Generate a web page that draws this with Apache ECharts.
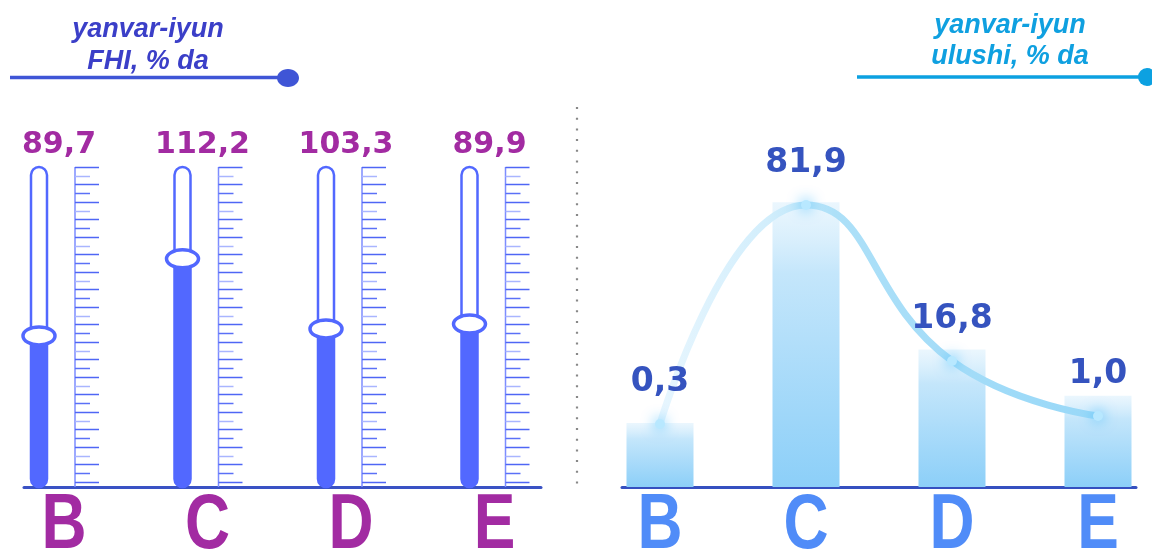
<!DOCTYPE html>
<html><head><meta charset="utf-8">
<script src="https://cdn.jsdelivr.net/npm/echarts@6/dist/echarts.min.js"></script>
<style>html,body{margin:0;padding:0;background:#fff}#c{width:1152px;height:551px}</style>
</head><body><div id="c"></div>
<script>
// ---- data ----
const categories = ['B', 'C', 'D', 'E'];
const fhiLabels = ['89,7', '112,2', '103,3', '89,9'];
const fhiLevels = [47.2, 71.3, 49.4, 50.9];          // knob level in tube (0..100)
const shareLabels = ['0,3', '81,9', '16,8', '1,0'];
const shareBarLevels = [20, 89, 43, 28.5];            // bar heights as drawn (0..100)
const shareLineLevels = [19.7, 88.1, 39.4, 22.2];     // curve points as drawn (0..100)
const rulerStep = 2.734;
const rulerCount = 37;

const TUBE = '#5268ff';
const PURPLE = '#a22ba2';
const LETTER_BLUE = '#508cf8';
const LETTER_FONT = 'bold 78px "Liberation Sans"';

function letter(x, y, txt, color) {
  return {type: 'text', x: x, y: y, scaleX: 0.8,
    style: {text: txt, fill: color, font: LETTER_FONT, align: 'center', verticalAlign: 'middle'}};
}

function renderThermo(params, api) {
  const i = api.value(0), lvl = api.value(1);
  const base = api.coord([i, 0]);
  const top = api.coord([i, 100]);
  const knob = api.coord([i, lvl]);
  const tx = base[0] - 25, rx = base[0] + 11;
  const ch = [];
  ch.push({type: 'rect', shape: {x: tx - 8, y: top[1], width: 16, height: base[1] - top[1], r: 8},
    style: {fill: '#fff', stroke: TUBE, lineWidth: 2.5}});
  ch.push({type: 'rect', shape: {x: tx - 8, y: knob[1], width: 16, height: base[1] - knob[1], r: [0, 0, 8, 8]},
    style: {fill: TUBE}});
  ch.push({type: 'ellipse', shape: {cx: tx, cy: knob[1], rx: 16, ry: 9},
    style: {fill: '#fff', stroke: TUBE, lineWidth: 3.5}});
  ch.push({type: 'line', shape: {x1: rx, y1: top[1], x2: rx, y2: base[1]},
    style: {stroke: '#7d8dff', lineWidth: 1.5}});
  for (let k = 0; k < rulerCount; k++) {
    const y = Math.round(api.coord([i, 100 - k * rulerStep])[1]) + 0.5;
    const long = k % 2 === 0;
    ch.push({type: 'line', shape: {x1: rx, y1: y, x2: rx + (long ? 24 : 15), y2: y},
      style: {stroke: long ? '#4f66f5' : (k % 4 === 1 ? '#a9b5ff' : '#5b70f7'), lineWidth: 1.5}});
  }
  ch.push({type: 'text', x: base[0] - 5, y: top[1] - 22,
    style: {text: fhiLabels[i], fill: PURPLE, font: 'bold 30px "DejaVu Sans"', align: 'center', verticalAlign: 'middle'}});
  ch.push(letter(base[0], base[1] + 39, categories[i], PURPLE));
  return {type: 'group', children: ch};
}

function renderLetters(params, api) {
  const i = api.value(0);
  const base = api.coord([i, 0]);
  return letter(base[0], base[1] + 39, categories[i], LETTER_BLUE);
}

const chart = echarts.init(document.getElementById('c'), null, {renderer: 'canvas'});
const gridBase = {top: 167, height: 320, outerBoundsMode: 'none', containLabel: false};
chart.setOption({
  animation: false,
  backgroundColor: '#fff',
  grid: [
    Object.assign({left: 64, width: 430.5}, gridBase),
    Object.assign({left: 587, width: 584}, gridBase),
    Object.assign({left: 24, width: 517}, gridBase),
    Object.assign({left: 622, width: 514}, gridBase)
  ],
  xAxis: [
    {gridIndex: 0, type: 'category', data: categories, boundaryGap: false,
      axisLine: {show: false}, axisTick: {show: false}, axisLabel: {show: false}},
    {gridIndex: 1, type: 'category', data: categories,
      axisLine: {show: false}, axisTick: {show: false}, axisLabel: {show: false}},
    {gridIndex: 2, type: 'category', data: categories,
      axisLine: {lineStyle: {color: '#3a52c4', width: 3}}, axisTick: {show: false}, axisLabel: {show: false}},
    {gridIndex: 3, type: 'category', data: categories,
      axisLine: {lineStyle: {color: '#3550c0', width: 3}}, axisTick: {show: false}, axisLabel: {show: false}}
  ],
  yAxis: [
    {gridIndex: 0, type: 'value', min: 0, max: 100, show: false},
    {gridIndex: 1, type: 'value', min: 0, max: 100, show: false},
    {gridIndex: 2, type: 'value', min: 0, max: 100, show: false},
    {gridIndex: 3, type: 'value', min: 0, max: 100, show: false}
  ],
  series: [
    {type: 'custom', xAxisIndex: 0, yAxisIndex: 0, clip: false,
      data: categories.map((c, i) => [i, fhiLevels[i]]),
      encode: {x: 0, y: 1}, renderItem: renderThermo},
    {type: 'bar', xAxisIndex: 1, yAxisIndex: 1, barWidth: 67, z: 2,
      data: shareBarLevels,
      itemStyle: {color: new echarts.graphic.LinearGradient(0, 0, 0, 1, [
        {offset: 0, color: 'rgba(215,238,252,0.5)'},
        {offset: 0.25, color: '#c4e6fb'},
        {offset: 1, color: '#8ccff8'}])}},
    {type: 'line', xAxisIndex: 1, yAxisIndex: 1, smooth: 0.5, z: 3,
      data: shareLineLevels,
      lineStyle: {width: 7, color: new echarts.graphic.LinearGradient(0, 0, 1, 0, [
        {offset: 0, color: '#e8f6fe'},
        {offset: 0.25, color: '#d2eefc'},
        {offset: 0.4, color: '#ade0f8'},
        {offset: 1, color: '#98d8f8'}])},
      symbol: 'circle', symbolSize: 10,
      itemStyle: {color: '#b8e8ff', shadowBlur: 14, shadowColor: '#38b8ff'},
      label: {show: true, position: 'top', distance: 20,
        formatter: p => shareLabels[p.dataIndex],
        color: '#3553bf', fontSize: 33, fontWeight: 'bold', fontFamily: 'DejaVu Sans'}},
    {type: 'custom', xAxisIndex: 1, yAxisIndex: 1, clip: false,
      data: categories.map((c, i) => [i, 0]),
      encode: {x: 0, y: 1}, renderItem: renderLetters}
  ],
  graphic: [
    {type: 'text', x: 148, y: 14, style: {text: 'yanvar-iyun\nFHI, % da', fill: '#3b3fc8',
      font: 'italic bold 27px "Liberation Sans"', align: 'center', verticalAlign: 'top', lineHeight: 32}},
    {type: 'line', shape: {x1: 10, y1: 77.5, x2: 285, y2: 77.5}, style: {stroke: '#3f55d6', lineWidth: 3.5}},
    {type: 'ellipse', shape: {cx: 288, cy: 78, rx: 11, ry: 9}, style: {fill: '#3f55d6'}},
    {type: 'text', x: 1010, y: 10, style: {text: 'yanvar-iyun\nulushi, % da', fill: '#0fa0e0',
      font: 'italic bold 27px "Liberation Sans"', align: 'center', verticalAlign: 'top', lineHeight: 31}},
    {type: 'line', shape: {x1: 857, y1: 77, x2: 1145, y2: 77}, style: {stroke: '#0ca1e1', lineWidth: 3.5}},
    {type: 'circle', shape: {cx: 1147, cy: 77, r: 9}, style: {fill: '#0ca1e1'}},
    {type: 'line', shape: {x1: 577, y1: 107, x2: 577, y2: 491},
      style: {stroke: '#888', lineWidth: 2.2, lineDash: [2, 8.7]}}
  ]
});
</script>
</body></html>
